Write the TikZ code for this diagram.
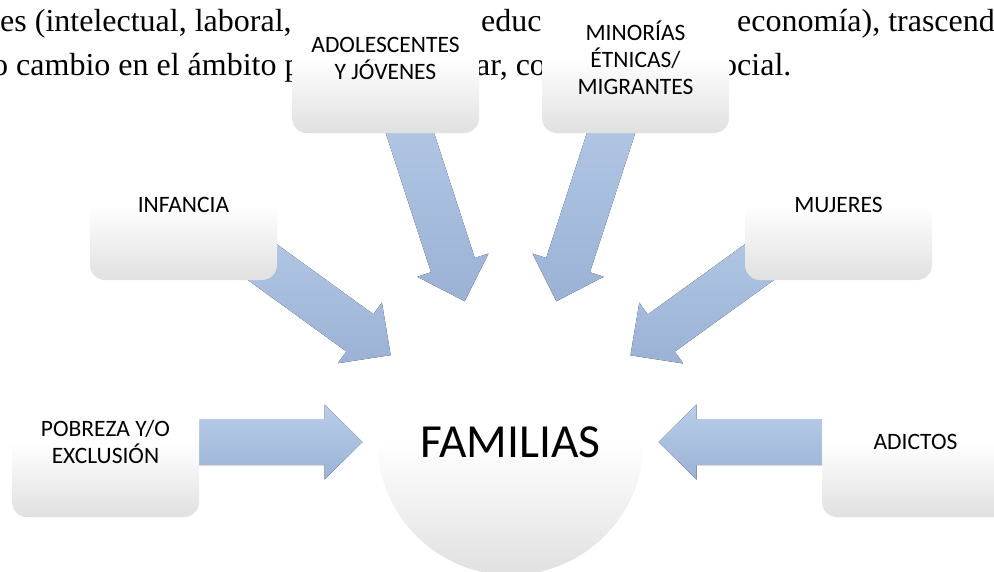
\documentclass[tikz,border=0pt]{standalone}
\usepackage{fontspec}
\setmainfont{Liberation Serif}
\newfontfamily\calibri{Carlito}
\usetikzlibrary{calc,backgrounds}

\definecolor{flowtop}{HTML}{BACEEA}
\definecolor{flowbottom}{HTML}{9BB2D5}
\definecolor{shadegray}{HTML}{E0E0E0}

\tikzset{
  group/.style={rounded corners=15pt, minimum width=187pt, minimum height=150pt, inner sep=0pt, align=center,
    top color=white, bottom color=shadegray, middle color=white, font=\calibri\fontsize{23.5}{27}\selectfont},
  core/.style={circle, minimum size=266pt, inner sep=0pt,
    top color=white, bottom color=shadegray, middle color=white, font=\calibri\fontsize{47.5}{52}\selectfont},
  flow/.style={top color=flowtop, bottom color=flowbottom},
  prose/.style={anchor=base west, inner sep=0pt, font=\fontsize{32}{38}\selectfont}
}

\newcommand{\blockarrow}[2]{%
  \coordinate (tip) at ($(#2)!148pt!(#1)$);
  \coordinate (hb) at ($(#2)!186pt!(#1)$);
  \fill[flow] (tip) -- ($(hb)!37.5pt!90:(#1)$) -- ($(hb)!23pt!90:(#1)$) -- ($(#1)!23pt!-90:(#2)$)
    -- ($(#1)!23pt!90:(#2)$) -- ($(hb)!23pt!-90:(#1)$) -- ($(hb)!37.5pt!-90:(#1)$) -- cycle;
}

\begin{document}
\begin{tikzpicture}[x=1pt,y=-1pt]
  \useasboundingbox (0,0) rectangle (994,571);
  \clip (0,0) rectangle (994,571);

  \node[group] (adol) at (385.5,58) {ADOLESCENTES\\Y JÓVENES};
  \node[group] (mino) at (635.5,58) {MINORÍAS\\ÉTNICAS/\\MIGRANTES};
  \node[group] (infa) at (183.5,205) {INFANCIA};
  \node[group] (muje) at (838.5,205) {MUJERES};
  \node[group] (pobr) at (105.5,442) {POBREZA Y/O\\EXCLUSIÓN};
  \node[group] (adic) at (915.5,442) {ADICTOS};
  \node[core] (fam) at (510.5,442) {FAMILIAS};

  \begin{scope}[on background layer]
    \node[prose] (l1a) at (0,31) {es (intelectual, laboral,};
    \node[prose] (l1b) at (481,31) {educ};
    \node[prose] (l1c) at (737,31) {economía), trascend};
    \node[prose] (l2a) at (-8,75) {o cambio en el ámbito p};
    \node[prose] (l2b) at (476,75) {ar, co};
    \node[prose] (l2c) at (721,75) {ocial.};

    \blockarrow{adol}{fam}
    \blockarrow{mino}{fam}
    \blockarrow{infa}{fam}
    \blockarrow{muje}{fam}
    \blockarrow{pobr}{fam}
    \blockarrow{adic}{fam}
  \end{scope}
\end{tikzpicture}
\end{document}
